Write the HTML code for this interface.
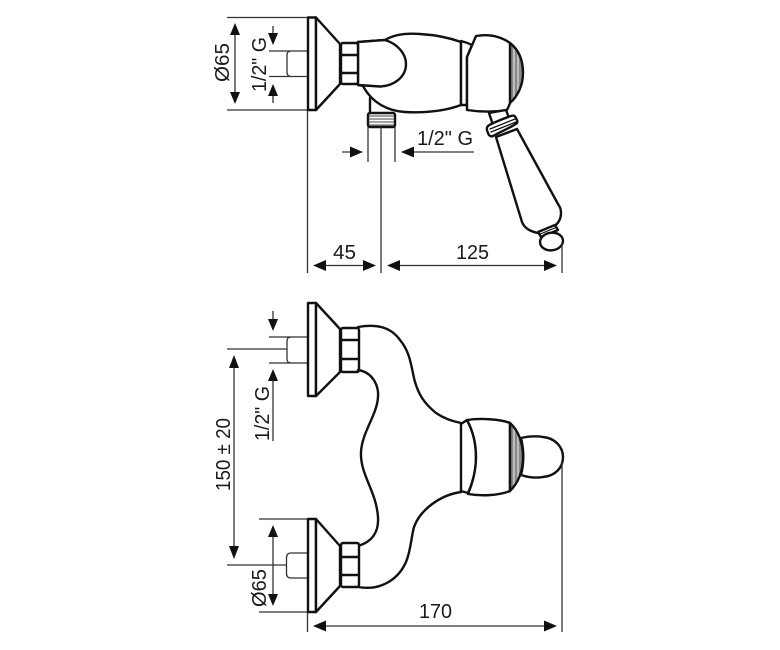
<!DOCTYPE html>
<html><head><meta charset="utf-8"><style>
html,body{margin:0;padding:0;background:#fff}
svg{display:block}
text{font-family:"Liberation Sans",sans-serif;font-size:20px;fill:#1a1a1a}
.s{fill:none;stroke:#111;stroke-width:2.4;stroke-linejoin:round;stroke-linecap:round}
.w{fill:#fff;stroke:#111;stroke-width:2.4;stroke-linejoin:round;stroke-linecap:round}
.d{fill:none;stroke:#333;stroke-width:1.3}
.a{fill:#111;stroke:none}
.h{fill:#888;stroke:none}
</style></head><body>
<svg width="780" height="650" viewBox="0 0 780 650" xmlns="http://www.w3.org/2000/svg">
<!-- TOP VIEW -->
<path class="d" d="M227 17.500H308M227 110H308M307.500 110V273M269 51H308M269 76.500H308"/>
<path class="d" d="M291 51Q287 51 287 55V72Q287 76.500 291 76.500"/>
<path class="d" d="M235 30V98M273 26V38M273 90V103"/>
<path class="a" d="M235 23l-5 12h10zM235 104l-5-12h10zM273 45l-5-12h10zM273 84l-5 12h10z"/>
<rect class="w" x="308" y="17.500" width="8" height="92.500"/>
<path class="w" d="M316 17.500L340 44V84L316 110Z"/>
<path class="s" d="M370 98V113"/>
<!-- body oval -->
<path class="w" d="M385 40C395 34 408 33 420 34C436 35 450 38 461 42V105C445 111 425 113 405 112C388 111 372 103 363 86L358 85V42Z"/>
<path class="w" d="M358 42L385 40C398 44 406 54 406 64C406 77 394 86 380 86.500L358 85Z"/>
<path class="w" d="M461 41C465 42 468 43 472 45L467 57V105L461 105Z"/>
<rect class="w" x="341" y="43" width="17" height="41" rx="2"/>
<path class="s" d="M341 55H358M341 73H358"/>
<!-- knob -->
<path class="h" d="M510 43C519 50 523 60 523 73C523 85 518 96 510 103Z"/>
<path class="s" d="M514 47V99M518 54V92" style="stroke:#eee;stroke-width:1"/>
<path class="w" d="M476 36C488 34 500 36 510 43V103C509 106 508 108 507 110C495 112 480 112 467 110V57Z"/>
<path class="s" d="M510 43C519 50 523 60 523 73C523 85 518 96 510 103"/>
<!-- handle -->
<path class="w" d="M489 113L493 125L509 118L506 110Z"/>
<path class="w" d="M496 137L522 222C524 227 528 231 538 233L554 226C558 224 561 219 561 213C561 209 560 207 558 204L517 129Z"/>
<path class="w" d="M488 133C487 131 486 128 488 126C490 124 505 118 511 116C514 115 515 116 516 118C517 120 518 122 517 123C514 126 500 132 493 136C491 137 489 136 488 133Z"/>
<path class="s" d="M490 129L515 119M491 132L516 122" style="stroke-width:1.3"/>
<path class="w" d="M538 232L555 225L558 230L541 237Z"/>
<path class="s" d="M539 234.500L556 227.500" style="stroke-width:1.200"/>
<ellipse class="w" cx="551.500" cy="241.500" rx="11.500" ry="8.800" transform="rotate(-8 551.500 241.500)"/>
<!-- thread -->
<rect class="w" x="368" y="113" width="27" height="14" rx="2"/>
<path class="s" d="M369 116H394M369 119H394M369 122H394M369 125H394" style="stroke-width:1;stroke:#444"/>
<path class="d" d="M368 127V162M395 127V162M381 127V273M562 243V273M342 152H352M413 152H474"/>
<path class="a" d="M363 152l-13-5.500v11zM401 152l13-5.500v11z"/>
<path class="d" d="M320 265.500H370M394 265.500H550"/>
<path class="a" d="M313 265.500l13-5.500v11zM376 265.500l-13-5.500v11zM387 265.500l13-5.500v11zM557 265.500l-13-5.500v11z"/>
<text x="417" y="145" textLength="56" lengthAdjust="spacingAndGlyphs">1/2" G</text>
<text x="333" y="259" textLength="23" lengthAdjust="spacingAndGlyphs">45</text>
<text x="456" y="259" textLength="33" lengthAdjust="spacingAndGlyphs">125</text>
<text transform="translate(229,82) rotate(-90)" textLength="39" lengthAdjust="spacingAndGlyphs">Ø65</text>
<text transform="translate(266,92) rotate(-90)" textLength="55" lengthAdjust="spacingAndGlyphs">1/2" G</text>
<!-- BOTTOM VIEW -->
<path class="d" d="M269 337H308M269 363H308M227 349H287M273 311V322M273 378V441M234 362V552"/>
<path class="d" d="M291 337Q287 337 287 341V359Q287 363 291 363"/>
<path class="a" d="M273 331l-5-12h10zM273 369l-5 12h10zM234 355l-5 13h10zM234 559l-5-13h10z"/>
<rect class="w" x="308" y="303" width="8" height="93"/>
<path class="w" d="M316 303L340 329V372L316 396Z"/>
<rect class="w" x="341" y="328" width="18" height="44" rx="2"/>
<path class="s" d="M341 340H359M341 359H359"/>
<path class="s" d="M358 327C375 324 390 326 400 340C410 352 411 365 414 378C418 395 425 404 436 413C445 419 452 421 461 423"/>
<path class="s" d="M358 370C372 372 379 385 378 397C377 415 362 432 361 452C360 475 376 490 378 517C379 532 372 542 358 546"/>
<path class="s" d="M358 587C380 591 398 580 406 562C411 550 411 538 414 527C420 510 440 495 461 492"/>
<path class="w" d="M461 424L467 420C473 431 476 444 476 457C476 470 473 482 468 493L461 491Z"/>
<path class="w" d="M467 420C480 418 500 419 510 423V491C498 496 480 496 468 494C473 482 476 470 476 457C476 444 473 431 467 420Z"/>
<path class="h" d="M510 423C519 431 523 444 523 457C523 470 519 482 510 491Z"/>
<path class="s" d="M514 428V486M518 434V480" style="stroke:#eee;stroke-width:1"/>
<path class="s" d="M510 423C519 431 523 444 523 457C523 470 519 482 510 491V423"/>
<path class="w" d="M521 438C530 436 537 436 543 437C555 438 563 447 563 457C563 468 555 476 543 477C537 478 530 478 521 475C524 463 524 450 521 438Z"/>
<path class="d" d="M562 463V632"/>
<!-- lower mount -->
<path class="d" d="M259 519H308M259 612H308M307.500 612V632M227 565H287"/>
<path class="d" d="M273 532V600M320 626H550"/>
<path class="a" d="M273 525l-5 12h10zM273 606l-5-12h10zM313 626l13-5.500v11zM557 626l-13-5.500v11z"/>
<path class="d" d="M307 553H291Q286.500 553 286.500 558V573Q286.500 578 291 578H307"/>
<rect class="w" x="308" y="519" width="8" height="93"/>
<path class="w" d="M316 519L340 546V586L316 612Z"/>
<rect class="w" x="341" y="543" width="18" height="44" rx="2"/>
<path class="s" d="M341 557H359M341 575H359"/>
<text x="419" y="618" textLength="33" lengthAdjust="spacingAndGlyphs">170</text>
<text transform="translate(230,491) rotate(-90)" textLength="73" lengthAdjust="spacingAndGlyphs">150 ± 20</text>
<text transform="translate(269,441) rotate(-90)" textLength="55" lengthAdjust="spacingAndGlyphs">1/2" G</text>
<text transform="translate(266,607) rotate(-90)" textLength="38" lengthAdjust="spacingAndGlyphs">Ø65</text>
</svg>
</body></html>
